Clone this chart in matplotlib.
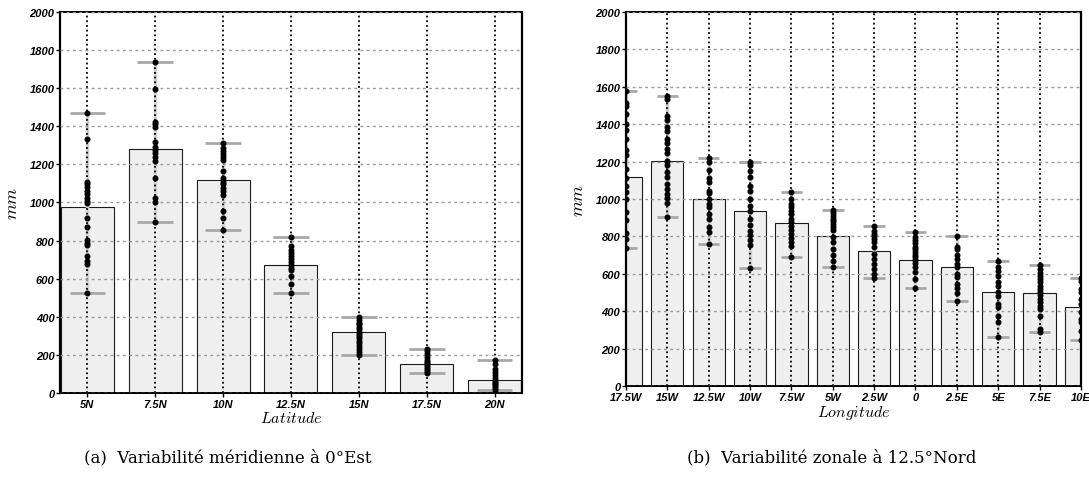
import numpy as np
import matplotlib
matplotlib.use("Agg")
import matplotlib.pyplot as plt

plt.rcParams['mathtext.fontset'] = 'cm'

# ================= DATA =================
lat_labels = ["5N", "7.5N", "10N", "12.5N", "15N", "17.5N", "20N"]
lat_means = [975, 1280, 1120, 670, 320, 150, 70]
lat_dots = [
    [1470, 1335, 1105, 1095, 1080, 1060, 1045, 1025, 1010, 995, 920, 870, 805, 790, 775, 720, 695, 675, 525],
    [1735, 1595, 1425, 1410, 1395, 1315, 1290, 1275, 1260, 1240, 1220, 1130, 1025, 1000, 900],
    [1310, 1285, 1270, 1255, 1240, 1225, 1165, 1130, 1110, 1095, 1075, 1060, 1040, 955, 920, 855],
    [820, 770, 750, 735, 720, 705, 690, 670, 655, 645, 615, 570, 525],
    [400, 385, 370, 360, 345, 335, 320, 310, 300, 290, 275, 260, 245, 230, 215, 200],
    [230, 220, 205, 190, 175, 165, 155, 145, 135, 125, 115, 105],
    [175, 150, 125, 110, 95, 80, 65, 55, 45, 35, 25, 15],
]

lon_labels = ["17.5W", "15W", "12.5W", "10W", "7.5W", "5W", "2.5W", "0", "2.5E", "5E", "7.5E", "10E"]
lon_means = [1115, 1205, 1000, 935, 870, 800, 720, 675, 635, 500, 495, 420]
lon_dots = [
    [1580, 1515, 1495, 1455, 1400, 1370, 1320, 1260, 1235, 1160, 1110, 1070, 1040, 1000, 930, 890, 820, 785, 740],
    [1550, 1535, 1445, 1425, 1385, 1365, 1320, 1300, 1265, 1245, 1205, 1180, 1145, 1120, 1080, 1055, 1025, 1005, 980, 905],
    [1220, 1200, 1155, 1110, 1090, 1045, 1030, 1000, 975, 955, 920, 895, 850, 825, 760],
    [1200, 1180, 1150, 1120, 1070, 1045, 1000, 965, 935, 895, 860, 830, 810, 780, 755, 630],
    [1040, 1000, 975, 955, 935, 920, 895, 875, 855, 835, 815, 790, 770, 750, 690],
    [940, 925, 910, 895, 880, 865, 850, 835, 795, 770, 735, 700, 670, 635],
    [855, 830, 815, 800, 785, 770, 745, 705, 680, 655, 625, 600, 575],
    [825, 795, 780, 765, 745, 730, 715, 700, 690, 675, 660, 635, 610, 570, 525],
    [800, 745, 730, 700, 680, 655, 635, 600, 585, 545, 525, 495, 455],
    [670, 635, 615, 590, 555, 535, 500, 480, 440, 420, 375, 340, 260],
    [645, 625, 605, 590, 570, 555, 535, 520, 500, 485, 465, 450, 430, 410, 375, 305, 290],
    [575, 560, 520, 500, 465, 440, 395, 360, 340, 295, 245],
]

yticks = list(range(0, 2001, 200))

# ================= PLOT SETUP =================
fig = plt.figure(figsize=(10.89, 4.89), dpi=100)
ax1 = fig.add_axes([0.0551, 0.1943, 0.4242, 0.7791])
ax2 = fig.add_axes([0.5748, 0.2086, 0.4178, 0.7648])


def draw_panel(ax, labels, means, dots, xlim, xlabel):
    x = np.arange(len(labels))
    ax.bar(x, means, width=0.78, color="#efefef", edgecolor="#1a1a1a",
           linewidth=0.8, zorder=1)
    for i, vals in enumerate(dots):
        lo, hi = min(vals), max(vals)
        # grey range line sits under the dotted grid
        ax.vlines(i, lo, hi, color="#d2d2d2", lw=2.5, zorder=2)
        ax.hlines([lo, hi], i - 0.26, i + 0.26, color="#a8a8a8", lw=2, zorder=3)
        ax.plot([i] * len(vals), vals, "o", color="black", ms=3.3,
                mec="black", zorder=5)

    ax.set_xlim(*xlim)
    ax.set_ylim(0, 2000)
    ax.set_xticks(x)
    ax.set_xticklabels(labels)
    ax.set_yticks(yticks)

    # grid on top of the bars
    ax.set_axisbelow(False)
    ax.yaxis.grid(True, color="#9a9a9a", linestyle=(0, (2, 2.5)), lw=1)
    ax.xaxis.grid(True, color="black", linestyle=(0, (1, 1.6)), lw=1.3)

    for side in ["left", "right"]:
        ax.spines[side].set_linewidth(1.6)
    for side in ["top", "bottom"]:
        ax.spines[side].set_linestyle((0, (1, 0.6)))
        ax.spines[side].set_linewidth(1.4)

    ax.tick_params(axis="both", direction="out", length=3, width=1,
                   labelsize=8, pad=1)
    for lbl in ax.get_xticklabels() + ax.get_yticklabels():
        lbl.set_fontfamily("Liberation Sans")
        lbl.set_fontweight("bold")
        lbl.set_fontstyle("italic")

    ax.set_xlabel("$" + xlabel + "$", fontsize=11.5, labelpad=1)
    ax.set_ylabel("$mm$", fontsize=13, labelpad=6)


draw_panel(ax1, lat_labels, lat_means, lat_dots, (-0.4, 6.4), "Latitude")
draw_panel(ax2, lon_labels, lon_means, lon_dots, (0, 11), "Longitude")

# ================= CAPTIONS =================
fig.text(228 / 1089, 1 - 458 / 489, "(a)  Variabilité méridienne à 0°Est",
         ha="center", va="center", fontsize=12, family="DejaVu Serif")
fig.text(832 / 1089, 1 - 458 / 489, "(b)  Variabilité zonale à 12.5°Nord",
         ha="center", va="center", fontsize=12, family="DejaVu Serif")

fig.savefig("out.png", dpi=100)
